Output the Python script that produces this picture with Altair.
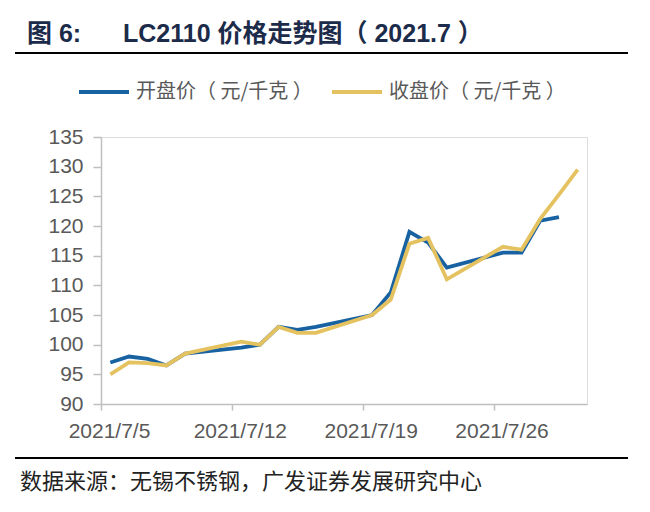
import altair as alt
import pandas as pd

# ---- data ----
open_dates = ["2021-07-05", "2021-07-06", "2021-07-07", "2021-07-08", "2021-07-09",
              "2021-07-12", "2021-07-13", "2021-07-14", "2021-07-15", "2021-07-16",
              "2021-07-19", "2021-07-20", "2021-07-21", "2021-07-22", "2021-07-23",
              "2021-07-26", "2021-07-27", "2021-07-28", "2021-07-29"]
open_vals = [97, 98, 97.6, 96.5, 98.5,
             99.5, 100, 103, 102.5, 103,
             105, 108.8, 119, 117.2, 113,
             115.5, 115.5, 120.9, 121.5]

close_dates = open_dates + ["2021-07-30"]
close_vals = [95, 97, 96.9, 96.5, 98.5,
              100.5, 100, 103, 102, 102,
              105, 107.6, 117, 118, 111,
              116.5, 116, 121.2, 125.3, 129.5]

series_names = ["开盘价（ 元/千克 ）", "收盘价（ 元/千克 ）"]
series_colors = ["#1862A2", "#E5C260"]

y_ticks = [90, 95, 100, 105, 110, 115, 120, 125, 130, 135]
x_tick_days = [5, 12, 19, 26]

title_left = "图 6:"
title_right = "LC2110 价格走势图（ 2021.7 ）"
source_text = "数据来源：无锡不锈钢，广发证券发展研究中心"

# ---- build table (points sit at mid-day, as in a date axis) ----
rows = []
for d, v in zip(open_dates, open_vals):
    rows.append({"date": d + "T12:00:00Z", "value": v, "series": series_names[0]})
for d, v in zip(close_dates, close_vals):
    rows.append({"date": d + "T12:00:00Z", "value": v, "series": series_names[1]})
df = pd.DataFrame(rows)

W, H = 486, 267
CJK = "Liberation Sans, Arial, Noto Sans CJK SC"

x_enc = alt.X(
    "date:T",
    scale=alt.Scale(
        type="utc",
        domain=[alt.DateTime(year=2021, month=7, date=5, utc=True),
                alt.DateTime(year=2021, month=7, date=31, utc=True)],
    ),
    axis=alt.Axis(
        values=[alt.DateTime(year=2021, month=7, date=d, utc=True) for d in x_tick_days],
        format="%Y/%-m/%-d",
        title=None,
        grid=False,
        domainColor="#BFBFBF",
        domainWidth=1.5,
        tickColor="#BFBFBF",
        tickWidth=1.5,
        tickSize=6,
        labelOffset=8,
        labelPadding=10,
        labelFont="Liberation Sans",
        labelFontSize=21,
        labelColor="#595959",
        labelFlush=False,
        labelOverlap=False,
    ),
)

y_enc = alt.Y(
    "value:Q",
    scale=alt.Scale(domain=[90, 135], nice=False, zero=False),
    axis=alt.Axis(
        values=y_ticks,
        title=None,
        grid=False,
        domainColor="#BFBFBF",
        domainWidth=1.5,
        tickColor="#BFBFBF",
        tickWidth=1.5,
        tickSize=8,
        labelPadding=10,
        labelFont="Liberation Sans",
        labelFontSize=21,
        labelColor="#595959",
    ),
)

lines = alt.Chart(df).mark_line(strokeWidth=3.8, strokeJoin="miter").encode(
    x=x_enc,
    y=y_enc,
    color=alt.Color(
        "series:N",
        scale=alt.Scale(domain=series_names, range=series_colors),
        legend=alt.Legend(
            title=None,
            orient="none",
            legendX=-24,
            legendY=-72,
            direction="horizontal",
            symbolType="stroke",
            symbolSize=2500,
            symbolStrokeWidth=4,
            labelFont="Noto Sans CJK SC",
            labelFontSize=20,
            labelColor="#595959",
            labelOffset=5,
            labelLimit=0,
            columnPadding=11,
            padding=0,
        ),
    ),
)

title1 = alt.Chart(pd.DataFrame({"t": [title_left]})).mark_text(
    font=CJK, fontSize=25, fontWeight="bold", color="#1C2B4A",
    align="left", baseline="alphabetic",
).encode(text="t:N", x=alt.value(-74), y=alt.value(-95))

title2 = alt.Chart(pd.DataFrame({"t": [title_right]})).mark_text(
    font=CJK, fontSize=25, fontWeight="bold", color="#1C2B4A",
    align="left", baseline="alphabetic",
).encode(text="t:N", x=alt.value(22), y=alt.value(-95))

top_rule = alt.Chart(pd.DataFrame({"a": [0]})).mark_rule(color="#000000", strokeWidth=2).encode(
    x=alt.value(-86), x2=alt.value(527), y=alt.value(-84)
)
bottom_rule = alt.Chart(pd.DataFrame({"a": [0]})).mark_rule(color="#000000", strokeWidth=2).encode(
    x=alt.value(-86), x2=alt.value(527), y=alt.value(321)
)

source = alt.Chart(pd.DataFrame({"t": [source_text]})).mark_text(
    font="Noto Sans CJK SC", fontSize=22, color="#222222",
    align="left", baseline="alphabetic",
).encode(text="t:N", x=alt.value(-81), y=alt.value(352))

chart = alt.layer(lines, title1, title2, top_rule, bottom_rule, source).properties(
    width=W,
    height=H,
    autosize=alt.AutoSizeParams(type="none"),
    padding={"left": 93, "top": 129, "right": 50, "bottom": 100},
).configure_view(stroke=None).configure(background="white")

chart.save("out.html", embed_options={"renderer": "svg", "actions": False})
